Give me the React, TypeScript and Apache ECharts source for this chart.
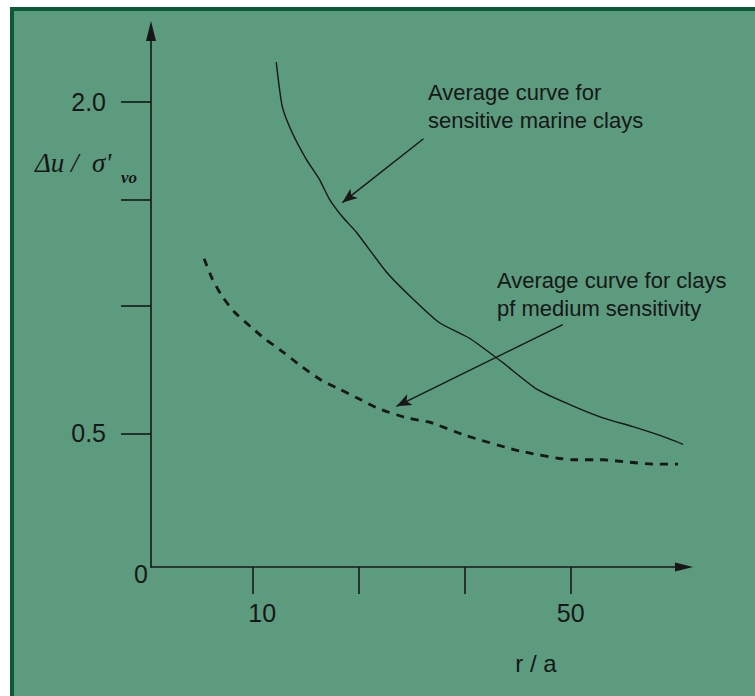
import React, { useEffect, useRef } from "react";
import * as echarts from "echarts";

// r/a values and Δu/σ'vo values
const sensitiveX = [12.9, 13.66, 14.92, 16.69, 18.33, 19.59, 21.23, 23.0, 26.78, 30.06, 33.47, 37.25, 41.42, 45.71, 49.87, 54.04, 57.82, 61.23, 64.13];
const sensitiveY = [2.18, 1.98, 1.86, 1.74, 1.65, 1.56, 1.48, 1.41, 1.23, 1.11, 1.0, 0.93, 0.82, 0.7, 0.63, 0.57, 0.53, 0.49, 0.45];

const mediumX = [3.82, 4.83, 6.09, 7.6, 9.75, 11.39, 13.66, 16.18, 18.58, 20.85, 23.63, 25.9, 29.31, 32.21, 36.75, 43.57, 50.25, 54.04, 57.07, 60.6, 63.5];
const mediumY = [1.29, 1.2, 1.12, 1.05, 0.98, 0.93, 0.87, 0.8, 0.74, 0.7, 0.65, 0.61, 0.57, 0.55, 0.49, 0.42, 0.38, 0.38, 0.37, 0.36, 0.36];

const xTickValues = [10, 23.33, 36.67, 50];
const xLabelValues = [10, 50];
const yTickValues = [0.5, 1.078, 1.557, 2.0];
const yLabelValues = [0.5, 2.0];

const X_MIN = -2.871;
const X_MAX = 64.26;
const Y_MIN = -0.1054;
const Y_MAX = 2.3208;

const sensitiveArrow = [[31.45, 1.833], [21.23, 1.544]];
const mediumArrow = [[48.99, 0.992], [28.04, 0.622]];

const annotationSensitive = ["Average curve for", "sensitive marine clays"];
const annotationMedium = ["Average curve for clays", "pf medium sensitivity"];
const xAxisTitle = "r / a";
const yAxisTitleMain = "Δu /  σ'";
const yAxisTitleSub = "vo";
const originLabel = "0";

export default function App() {
  const ref = useRef<HTMLDivElement>(null);

  useEffect(() => {
    if (!ref.current) return;
    const chart = echarts.init(ref.current, null, { renderer: "svg" });
    const ink = "#171717";
    const sans = "'Liberation Sans', Arial, Helvetica, sans-serif";
    const serif = "'Liberation Serif', 'DejaVu Serif', serif";

    chart.setOption({
      animation: false,
      backgroundColor: "transparent",
      grid: { left: 151, top: 31, right: 71, bottom: 129 },
      xAxis: {
        type: "value",
        min: X_MIN,
        max: X_MAX,
        splitLine: { show: false },
        axisLine: {
          show: true,
          onZero: false,
          symbol: ["none", "triangle"],
          symbolSize: [9, 18],
          lineStyle: { color: ink, width: 1.6 },
        },
        axisTick: {
          show: true,
          inside: false,
          length: 27,
          customValues: xTickValues,
          lineStyle: { color: ink, width: 1.6 },
        },
        axisLabel: {
          show: true,
          customValues: xLabelValues,
          margin: 33,
          fontSize: 25,
          fontFamily: sans,
          color: ink,
          formatter: (v: number) => (v === 10 ? "{s|10}" : String(v)),
          rich: {
            s: { padding: [0, 0, 0, 18], fontSize: 25, fontFamily: sans, color: ink },
          },
        },
      },
      yAxis: {
        type: "value",
        min: Y_MIN,
        max: Y_MAX,
        splitLine: { show: false },
        axisLine: {
          show: true,
          onZero: false,
          symbol: ["none", "triangle"],
          symbolSize: [10, 20],
          lineStyle: { color: ink, width: 1.6 },
        },
        axisTick: {
          show: true,
          inside: false,
          length: 30,
          customValues: yTickValues,
          lineStyle: { color: ink, width: 1.6 },
        },
        axisLabel: {
          show: true,
          customValues: yLabelValues,
          margin: 45,
          fontSize: 25,
          fontFamily: sans,
          color: ink,
          formatter: (v: number) => v.toFixed(1),
        },
      },
      series: [
        {
          name: "sensitive marine clays",
          type: "line",
          data: sensitiveX.map((x, i) => [x, sensitiveY[i]]),
          showSymbol: false,
          smooth: 0.2,
          lineStyle: { color: ink, width: 1.4 },
          silent: true,
          markLine: {
            silent: true,
            symbol: ["none", "arrow"],
            symbolSize: [9, 15],
            label: { show: false },
            lineStyle: { color: ink, width: 1.4, type: "solid" },
            emphasis: { disabled: true },
            data: [
              [{ coord: sensitiveArrow[0] }, { coord: sensitiveArrow[1] }],
              [{ coord: mediumArrow[0] }, { coord: mediumArrow[1] }],
            ],
          },
        },
        {
          name: "clays of medium sensitivity",
          type: "line",
          data: mediumX.map((x, i) => [x, mediumY[i]]),
          showSymbol: false,
          smooth: 0.2,
          silent: true,
          lineStyle: { color: ink, width: 2.8, type: [8, 7], cap: "butt" },
        },
      ],
      graphic: [
        {
          type: "text",
          x: 428,
          y: 78,
          silent: true,
          style: {
            text: annotationSensitive.join("\n"),
            fontSize: 22,
            fontFamily: sans,
            lineHeight: 28,
            fill: ink,
          },
        },
        {
          type: "text",
          x: 497,
          y: 266,
          silent: true,
          style: {
            text: annotationMedium.join("\n"),
            fontSize: 22,
            fontFamily: sans,
            lineHeight: 28,
            fill: ink,
          },
        },
        {
          type: "text",
          x: 536,
          y: 663,
          silent: true,
          style: {
            text: xAxisTitle,
            fontSize: 24,
            fontFamily: sans,
            fill: ink,
            align: "center",
            verticalAlign: "middle",
          },
        },
        {
          type: "text",
          x: 141,
          y: 574,
          silent: true,
          style: {
            text: originLabel,
            fontSize: 25,
            fontFamily: sans,
            fill: ink,
            align: "center",
            verticalAlign: "middle",
          },
        },
        {
          type: "text",
          x: 35,
          y: 163,
          silent: true,
          style: {
            text: yAxisTitleMain,
            fontSize: 27,
            fontFamily: serif,
            fontStyle: "italic",
            fill: ink,
            align: "left",
            verticalAlign: "middle",
          },
        },
        {
          type: "text",
          x: 121,
          y: 177,
          silent: true,
          style: {
            text: yAxisTitleSub,
            fontSize: 17,
            fontFamily: serif,
            fontStyle: "italic",
            fontWeight: "bold",
            fill: ink,
            align: "left",
            verticalAlign: "middle",
          },
        },
      ],
    });

    return () => chart.dispose();
  }, []);

  return (
    <div style={{ position: "absolute", left: 0, top: 0, width: 755, height: 696, background: "#ffffff", overflow: "hidden" }}>
      <div
        style={{
          position: "absolute",
          left: 10,
          top: 7,
          width: 745,
          height: 689,
          boxSizing: "border-box",
          borderTop: "4px solid #0b5a34",
          borderLeft: "4px solid #0b5a34",
          background: "#5c9b7e",
        }}
      />
      <div ref={ref} style={{ position: "absolute", left: 0, top: 0, width: 755, height: 696 }} />
    </div>
  );
}
